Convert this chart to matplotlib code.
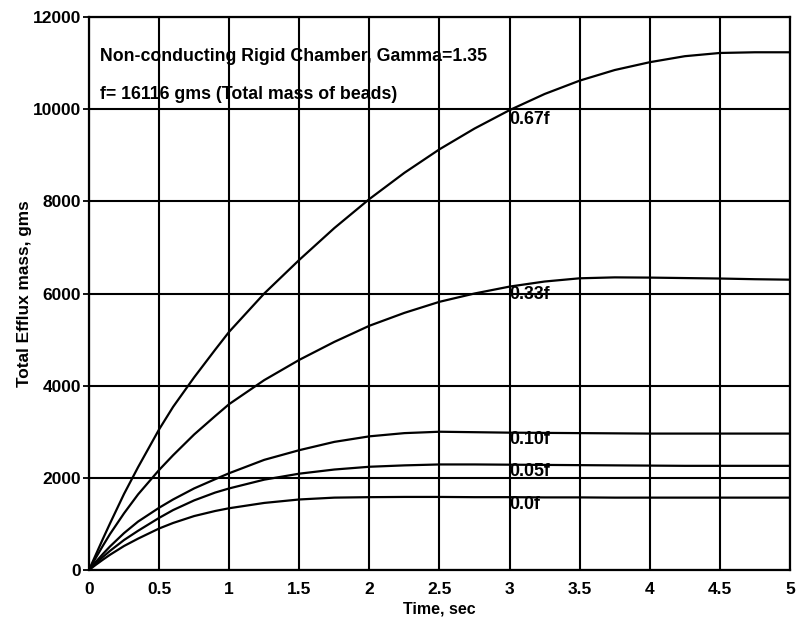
import matplotlib
matplotlib.use("Agg")
import matplotlib.pyplot as plt
import numpy as np

plt.rcParams['font.family'] = ['Liberation Sans', 'DejaVu Sans']

time = [0, 0.05, 0.1, 0.15, 0.25, 0.35, 0.5, 0.6, 0.75, 0.9, 1.0, 1.25, 1.5, 1.75, 2.0, 2.25, 2.5, 2.75, 3.0, 3.25, 3.5, 3.75, 4.0, 4.25, 4.5, 4.75, 5.0]
mass_067f = [0, 340, 680, 1010, 1650, 2230, 3050, 3540, 4180, 4780, 5170, 6000, 6730, 7420, 8050, 8620, 9130, 9580, 9980, 10330, 10620, 10850, 11020, 11150, 11220, 11235, 11235]
mass_033f = [0, 270, 530, 780, 1230, 1640, 2170, 2490, 2940, 3340, 3600, 4120, 4560, 4950, 5300, 5580, 5820, 6000, 6150, 6260, 6330, 6350, 6345, 6335, 6325, 6310, 6300]
mass_010f = [0, 180, 350, 510, 800, 1050, 1350, 1530, 1770, 1970, 2100, 2390, 2600, 2780, 2900, 2970, 3000, 2990, 2980, 2975, 2970, 2965, 2960, 2960, 2960, 2960, 2960]
mass_005f = [0, 145, 285, 415, 650, 850, 1130, 1300, 1510, 1680, 1770, 1960, 2090, 2180, 2240, 2270, 2290, 2290, 2285, 2280, 2275, 2270, 2265, 2260, 2260, 2260, 2260]
mass_00f = [0, 115, 225, 330, 520, 680, 900, 1020, 1170, 1280, 1340, 1455, 1530, 1570, 1580, 1585, 1585, 1580, 1580, 1575, 1575, 1570, 1570, 1570, 1570, 1570, 1570]

series = [mass_067f, mass_033f, mass_010f, mass_005f, mass_00f]
curve_labels = ["0.67f", "0.33f", "0.10f", "0.05f", "0.0f"]
label_y = [9780, 5980, 2830, 2130, 1420]

xticks = [0, 0.5, 1, 1.5, 2, 2.5, 3, 3.5, 4, 4.5, 5]
xticklabels = ["0", "0.5", "1", "1.5", "2", "2.5", "3", "3.5", "4", "4.5", "5"]
yticks = [0, 2000, 4000, 6000, 8000, 10000, 12000]

fig = plt.figure(figsize=(7.98, 6.26), dpi=100)
ax = fig.add_axes([0.1115, 0.0895, 0.8785, 0.8833])

for s in series:
    ax.plot(time, s, color='black', lw=1.6, zorder=3, solid_joinstyle='round')

ax.set_xlim(0, 5)
ax.set_ylim(0, 12000)
ax.set_xticks(xticks)
ax.set_xticklabels(xticklabels)
ax.set_yticks(yticks)
ax.grid(True, color='black', lw=1.5, zorder=1)

for sp in ax.spines.values():
    sp.set_linewidth(1.6)

ax.tick_params(axis='x', length=0, pad=9, labelsize=12.5)
ax.tick_params(axis='y', length=4, width=1.3, pad=1.5, labelsize=12.5)
for lab in ax.get_xticklabels() + ax.get_yticklabels():
    lab.set_fontweight('bold')

ax.set_xlabel("Time, sec", fontsize=11.5, fontweight='bold', labelpad=3)
ax.set_ylabel("Total Efflux mass, gms", fontsize=12.4, fontweight='bold', labelpad=1)

for lab, yv in zip(curve_labels, label_y):
    ax.text(3.0, yv, lab, fontsize=12.8, fontweight='bold', va='center', ha='left', zorder=4)

ax.text(0.08, 11140, "Non-conducting Rigid Chamber, Gamma=1.35", fontsize=12.8, fontweight='bold', va='center', ha='left')
ax.text(0.08, 10320, "f= 16116 gms (Total mass of beads)", fontsize=12.8, fontweight='bold', va='center', ha='left')

fig.savefig("out.png", dpi=100)
